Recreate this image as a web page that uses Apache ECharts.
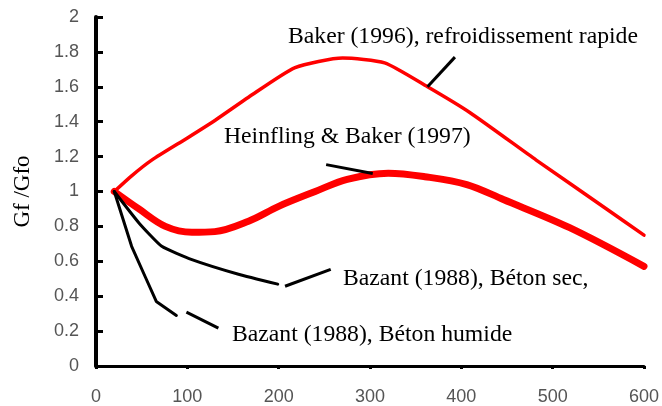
<!DOCTYPE html>
<html>
<head>
<meta charset="utf-8">
<script src="https://cdn.jsdelivr.net/npm/echarts@6/dist/echarts.min.js"></script>
<style>
  html, body { margin: 0; padding: 0; background: #fff; }
  #chart { width: 662px; height: 406px; }
</style>
</head>
<body>
<div id="chart"></div>
<script>
// Courbes : temperature (x) et Gf/Gfo (y)
var bakerX = [20, 39, 61, 101, 131, 167, 218, 270, 316, 363, 410, 482, 559, 600];
var bakerY = [1.0, 1.09, 1.18, 1.31, 1.41, 1.54, 1.71, 1.765, 1.737, 1.6, 1.45, 1.18, 0.9, 0.75];

var heinflingX = [20, 47, 76, 105, 130, 167, 200, 240, 275, 320, 360, 406, 446, 518, 600];
var heinflingY = [1.0, 0.9, 0.8, 0.766, 0.77, 0.83, 0.915, 1.0, 1.07, 1.105, 1.085, 1.04, 0.954, 0.794, 0.571];

var bazantSecX = [20, 47, 72, 105, 156, 199];
var bazantSecY = [1.0, 0.82, 0.686, 0.61, 0.526, 0.469];

var bazantHumX = [20, 39, 54, 66, 88];
var bazantHumY = [1.0, 0.686, 0.51, 0.37, 0.29];

// traits de renvoi vers les etiquettes (x1, y1, x2, y2)
var leaders = [
    [363, 1.6, 393, 1.77],
    [252, 1.154, 303, 1.103],
    [207, 0.457, 257, 0.554],
    [99, 0.309, 134, 0.217]
];

var labels = [
    'Baker (1996), refroidissement rapide',
    'Heinfling & Baker (1997)',
    'Bazant (1988), Béton sec,',
    'Bazant (1988), Béton humide'
];

var xTicks = [0, 100, 200, 300, 400, 500, 600];

function pairs(xs, ys) {
    return xs.map(function (x, i) { return [x, ys[i]]; });
}

var chart = echarts.init(document.getElementById('chart'), null, { renderer: 'canvas' });

var series = [
    { name: labels[0], data: pairs(bakerX, bakerY), color: '#ff0000', width: 3.5, smooth: 0.2 },
    { name: labels[1], data: pairs(heinflingX, heinflingY), color: '#ff0000', width: 7, smooth: 0.35 },
    { name: labels[2], data: pairs(bazantSecX, bazantSecY), color: '#000000', width: 3, smooth: 0.15 },
    { name: labels[3], data: pairs(bazantHumX, bazantHumY), color: '#000000', width: 3, smooth: false }
].map(function (s) {
    return {
        type: 'line',
        name: s.name,
        data: s.data,
        smooth: s.smooth,
        symbol: 'none',
        lineStyle: { color: s.color, width: s.width, cap: 'round', join: 'round' },
        z: 3
    };
});

leaders.forEach(function (l) {
    series.push({
        type: 'line',
        data: [[l[0], l[1]], [l[2], l[3]]],
        symbol: 'none',
        lineStyle: { color: '#000', width: 3 },
        z: 4
    });
});

var serif = '"Liberation Serif", "Times New Roman", serif';
var sans = '"Liberation Sans", Arial, sans-serif';
var textPos = [[288, 37], [224, 137], [343, 279], [232, 335]];

chart.setOption({
    animation: false,
    backgroundColor: '#fff',
    grid: { left: 96, right: 17, top: 17, bottom: 39 },
    xAxis: {
        type: 'value',
        min: xTicks[0],
        max: xTicks[xTicks.length - 1],
        interval: 100,
        axisLine: { lineStyle: { color: '#000', width: 3 } },
        axisTick: { show: true, inside: false, length: 3, lineStyle: { color: '#000', width: 3 } },
        axisLabel: { color: '#555', fontSize: 18, fontFamily: sans, margin: 22 },
        splitLine: { show: false }
    },
    yAxis: {
        type: 'value',
        min: 0,
        max: 2,
        interval: 0.2,
        name: 'Gf /Gfo',
        nameLocation: 'middle',
        nameRotate: 90,
        nameGap: 62,
        nameTextStyle: { color: '#000', fontSize: 23, fontFamily: serif },
        axisLine: { show: true, lineStyle: { color: '#000', width: 4 } },
        axisTick: { show: true, inside: true, length: 7, lineStyle: { color: '#000', width: 3 } },
        axisLabel: { color: '#555', fontSize: 18, fontFamily: sans, margin: 17 },
        splitLine: { show: false }
    },
    graphic: labels.map(function (t, i) {
        return {
            type: 'text',
            left: textPos[i][0],
            top: textPos[i][1] - 12,
            style: { text: t, fill: '#000', font: '23.7px ' + serif },
            z: 10
        };
    }),
    series: series
});
</script>
</body>
</html>
